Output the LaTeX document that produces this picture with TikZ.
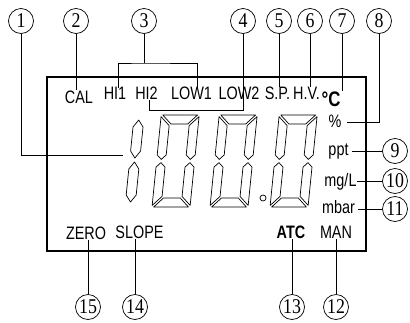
\documentclass[tikz,border=0pt]{standalone}
\usepackage{fontspec}
\setmainfont{Liberation Sans}
\newfontfamily\lcdfont{Liberation Sans}[FakeStretch=0.8]
\newfontfamily\numfont{Liberation Serif}[FakeStretch=0.85]
\usepackage{tikz}
\usetikzlibrary{positioning, calc}
\newcommand{\lcdzero}{%
  \draw[seg] (1.6,92) -- (36.4,92) -- (27.4,83) -- (10.6,83) -- cycle;
  \draw[seg] (0,90.4) -- (9,81.4) -- (9,52.1) -- (4.5,47.6) -- (0,52.1) -- cycle;
  \draw[seg] (0,1.6) -- (9,10.6) -- (9,39.9) -- (4.5,44.4) -- (0,39.9) -- cycle;
  \draw[seg] (1.6,0) -- (36.4,0) -- (27.4,9) -- (10.6,9) -- cycle;
  \draw[seg] (38,90.4) -- (29,81.4) -- (29,52.1) -- (33.5,47.6) -- (38,52.1) -- cycle;
  \draw[seg] (38,1.6) -- (29,10.6) -- (29,39.9) -- (33.5,44.4) -- (38,39.9) -- cycle;}
\newcommand{\lcdone}{%
  \draw[seg] (5,49) -- (10,56) -- (10,80) -- (5,87) -- (0,80) -- (0,56) -- cycle;
  \draw[seg] (5,5) -- (10,12) -- (10,38) -- (5,45) -- (0,38) -- (0,12) -- cycle;}

\begin{document}
\begin{tikzpicture}[x=1pt, y=-1pt, line width=0.8pt,
  callout/.style={circle, draw, line width=0.7pt, minimum size=25pt, inner sep=0pt,
    font=\numfont\fontsize{21}{21}\selectfont},
  lcdtext/.style={inner sep=0pt, font=\lcdfont\fontsize{18}{18}\selectfont},
  lcdbold/.style={lcdtext, font=\lcdfont\bfseries\fontsize{18}{18}\selectfont},
  seg/.style={line width=0.7pt, line join=round}]
\useasboundingbox (0,0) rectangle (410,322);
\draw[line width=1.2pt] (47,77) rectangle (366,251);
% callouts
\foreach \n/\x in {1/21, 2/76, 3/144, 4/243, 5/279, 6/310, 7/342, 8/379}
  \node[callout] (c\n) at (\x,21) {\n};
\foreach \n/\y in {9/151, 10/181, 11/209}
  \node[callout] (c\n) at (395,\y) {\n};
\foreach \n/\x in {12/336, 13/292, 14/135, 15/88}
  \node[callout] (c\n) at (\x,307) {\n};
% display texts
\node[lcdtext] (cal) at (79,97) {CAL};
\node[lcdtext] (hi1) at (115,93.5) {HI1};
\node[lcdtext] (hi2) at (146.5,93.5) {HI2};
\node[lcdtext] (low1) at (191.5,93.5) {LOW1};
\node[lcdtext] (low2) at (239,93.5) {LOW2};
\node[lcdtext] (sp) at (277.5,93.5) {S.P.};
\node[lcdtext] (hv) at (306.5,93.5) {H.V.};
\node[lcdbold, font=\lcdfont\bfseries\fontsize{21}{21}\selectfont] (degc) at (331,99) {°C};
\node[lcdtext] (pct) at (335,121.5) {\%};
\node[lcdtext, anchor=base] (ppt) at (338.5,155.5) {ppt};
\node[lcdtext, anchor=base] (mgl) at (340.5,186) {mg/L};
\node[lcdtext, anchor=base] (mbar) at (338.5,213) {mbar};
\node[lcdtext] (zero) at (86,233) {ZERO};
\node[lcdtext] (slope) at (139.5,232.5) {SLOPE};
\node[lcdbold] (atc) at (291,232.5) {ATC};
\node[lcdtext] (man) at (336,232.5) {MAN};
% digits
\begin{scope}[shift={(125,207)}, y=1pt, xslant=0.1]
  \lcdone
\end{scope}
\foreach \dx in {152,210,270} {
  \begin{scope}[shift={(\dx,207)}, y=1pt, xslant=0.1]
    \lcdzero
  \end{scope}
}
\draw[seg] (263,198) circle (3pt);
% leader lines
\coordinate (d1) at (123,155);
\draw (c1.south) |- (d1);
\draw (c2.south) -- (c2.south |- cal.north);
\coordinate (b3) at (144,63);
\coordinate (b3l) at (118,88);
\coordinate (b3r) at (197,88);
\draw (c3.south) -- (b3);
\draw (b3l) |- (b3) -| (b3r);
\coordinate (b4r) at (243,110);
\coordinate (b4l) at (149,110);
\draw (c4.south) -- (b4r) -- (b4l) -- (b4l |- hi2.south);
\draw (c5.south) -- (c5.south |- sp.north);
\draw (c6.south) -- (c6.south |- hv.north);
\draw (c7.south) -- (c7.south |- degc.north);
\coordinate (p8) at (347,122);
\draw (c8.south) |- (p8);
\draw[shorten <=3pt] (ppt.east |- c9) -- (c9);
\draw (mgl.east |- c10) -- (c10);
\draw[shorten <=3pt] (mbar.east |- c11) -- (c11);
\draw (c12.north) -- (c12.north |- man.south);
\draw (c13.north) -- (c13.north |- atc.south);
\draw (c14.north) -- (c14.north |- slope.south);
\draw (c15.north) -- (c15.north |- zero.south);
\end{tikzpicture}
\end{document}
